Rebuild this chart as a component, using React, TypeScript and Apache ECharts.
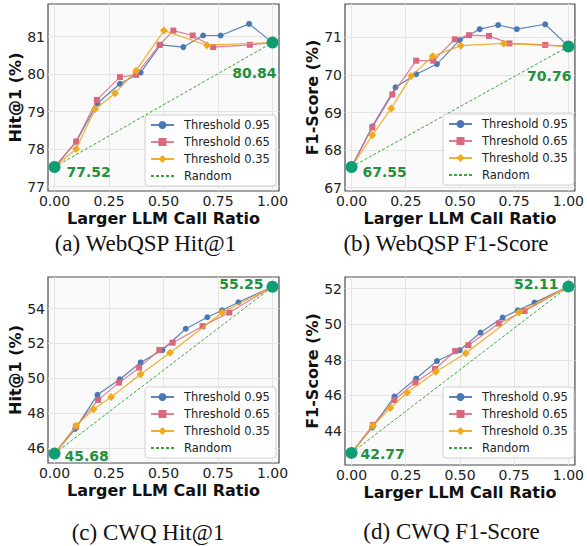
import React, { useEffect, useRef } from "react";
import * as echarts from "echarts";

// ---------- data ----------
const xTicks = [0, 0.25, 0.5, 0.75, 1];

// (a) WebQSP Hit@1
const aBlue = [[0, 77.52], [0.1, 78.2], [0.197, 79.22], [0.3, 79.74], [0.395, 80.04], [0.486, 80.78], [0.591, 80.72], [0.682, 81.03], [0.762, 81.03], [0.893, 81.34], [1, 80.84]];
const aPink = [[0, 77.52], [0.099, 78.2], [0.194, 79.31], [0.3, 79.92], [0.374, 79.98], [0.482, 80.78], [0.545, 81.16], [0.634, 81.03], [0.728, 80.72], [0.896, 80.78], [1, 80.84]];
const aOrange = [[0, 77.52], [0.099, 78.0], [0.186, 79.06], [0.278, 79.49], [0.374, 80.09], [0.502, 81.16], [0.7, 80.77], [1, 80.84]];
const aRandom = [[0, 77.52], [1, 80.84]];
const aTicks = [77, 78, 79, 80, 81];

// (b) WebQSP F1-Score
const bBlue = [[0, 67.55], [0.096, 68.63], [0.203, 69.67], [0.298, 70.02], [0.394, 70.29], [0.499, 70.93], [0.591, 71.22], [0.676, 71.33], [0.762, 71.22], [0.893, 71.35], [1, 70.76]];
const bPink = [[0, 67.55], [0.096, 68.6], [0.188, 69.48], [0.298, 70.38], [0.377, 70.38], [0.476, 70.95], [0.542, 71.06], [0.634, 71.04], [0.728, 70.84], [0.893, 70.8], [1, 70.76]];
const bOrange = [[0, 67.55], [0.096, 68.4], [0.183, 69.11], [0.275, 69.97], [0.374, 70.5], [0.504, 70.78], [0.702, 70.84], [1, 70.76]];
const bRandom = [[0, 67.55], [1, 70.76]];
const bTicks = [67, 68, 69, 70, 71];

// (c) CWQ Hit@1
const cBlue = [[0, 45.68], [0.095, 47.1], [0.197, 49.05], [0.3, 49.94], [0.395, 50.91], [0.495, 51.62], [0.602, 52.84], [0.701, 53.5], [0.769, 53.9], [0.844, 54.36], [1, 55.25]];
const cPink = [[0, 45.68], [0.099, 47.24], [0.2, 48.76], [0.296, 49.75], [0.388, 50.61], [0.481, 51.62], [0.542, 52.04], [0.679, 52.99], [0.802, 53.77], [1, 55.25]];
const cOrange = [[0, 45.68], [0.099, 47.28], [0.179, 48.23], [0.26, 48.93], [0.395, 50.23], [0.53, 51.47], [0.769, 53.77], [1, 55.25]];
const cRandom = [[0, 45.68], [1, 55.25]];
const cTicks = [46, 48, 50, 52, 54];

// (d) CWQ F1-Score
const dBlue = [[0, 42.77], [0.096, 44.2], [0.198, 45.93], [0.298, 46.95], [0.394, 47.93], [0.499, 48.54], [0.595, 49.53], [0.697, 50.37], [0.767, 50.78], [0.844, 51.21], [1, 52.11]];
const dPink = [[0, 42.77], [0.099, 44.34], [0.198, 45.74], [0.295, 46.73], [0.385, 47.48], [0.478, 48.49], [0.539, 48.82], [0.679, 50.04], [0.798, 50.74], [1, 52.11]];
const dOrange = [[0, 42.77], [0.099, 44.3], [0.179, 45.29], [0.256, 46.15], [0.389, 47.33], [0.527, 48.37], [0.771, 50.65], [1, 52.11]];
const dRandom = [[0, 42.77], [1, 52.11]];
const dTicks = [44, 46, 48, 50, 52];

const seriesNames = ["Threshold 0.95", "Threshold 0.65", "Threshold 0.35", "Random"];
const captions = ["(a) WebQSP Hit@1", "(b) WebQSP F1-Score", "(c) CWQ Hit@1", "(d) CWQ F1-Score"];
const yTitles = ["Hit@1 (%)", "F1-Score (%)", "Hit@1 (%)", "F1-Score (%)"];
const xTitle = "Larger LLM Call Ratio";

// ---------- styling / layout ----------
const FONT = "DejaVu Sans";
const BLUE = "#4a78b3";
const PINK = "#d9687f";
const ORANGE = "#efa91c";
const GREEN_LINE = "#3aa53a";
const GREEN_PT = "#0f9e74";
const GREEN_TXT = "#22913a";

const panels = [
  { blue: aBlue, pink: aPink, orange: aOrange, random: aRandom, ticks: aTicks, ymin: 76.88, ymax: 81.87,
    grid: { left: 48, top: 4, width: 231, height: 187 }, legend: { left: 145, top: 115 },
    startOff: [12, 5], endOff: [4, 30], caption: [145.5, 243] },
  { blue: bBlue, pink: bPink, orange: bOrange, random: bRandom, ticks: bTicks, ymin: 66.91, ymax: 71.89,
    grid: { left: 345, top: 4, width: 232, height: 187 }, legend: { left: 443, top: 114 },
    startOff: [11, 5], endOff: [3, 30], caption: [446, 243] },
  { blue: cBlue, pink: cPink, orange: cOrange, random: cRandom, ticks: cTicks, ymin: 45.14, ymax: 55.81,
    grid: { left: 48, top: 277, width: 231, height: 186 }, legend: { left: 145, top: 387 },
    startOff: [10, 2], endOff: [-9, -3], caption: [148, 532] },
  { blue: dBlue, pink: dPink, orange: dOrange, random: dRandom, ticks: dTicks, ymin: 42.09, ymax: 52.65,
    grid: { left: 345, top: 277, width: 232, height: 188 }, legend: { left: 443, top: 387 },
    startOff: [9, 1], endOff: [-10, -3], caption: [451.5, 531] },
];

function buildOption() {
  const grid: any[] = [];
  const xAxis: any[] = [];
  const yAxis: any[] = [];
  const series: any[] = [];
  const legend: any[] = [];
  const graphic: any[] = [];

  panels.forEach((p, i) => {
    grid.push({
      ...p.grid,
      show: true,
      backgroundColor: "#fafafa",
      borderColor: "#4a4a4a",
      borderWidth: 1.2,
      containLabel: false,
    });
    xAxis.push({
      type: "value",
      gridIndex: i,
      min: -0.03,
      max: 1.03,
      name: xTitle,
      nameLocation: "middle",
      nameGap: 19,
      nameTextStyle: { fontFamily: FONT, fontWeight: "bold", fontSize: 16, color: "#111" },
      axisLine: { show: false },
      axisTick: { show: false, customValues: xTicks },
      axisLabel: {
        customValues: xTicks,
        formatter: (v: number) => v.toFixed(2),
        fontFamily: FONT,
        fontSize: 14,
        color: "#222",
        margin: 3,
      },
      splitLine: { show: true, lineStyle: { color: "#e4e4e4", width: 1 } },
    });
    yAxis.push({
      type: "value",
      gridIndex: i,
      min: p.ymin,
      max: p.ymax,
      name: yTitles[i],
      nameLocation: "middle",
      nameGap: 24,
      nameTextStyle: { fontFamily: FONT, fontWeight: "bold", fontSize: 16, color: "#111" },
      axisLine: { show: false },
      axisTick: { show: false, customValues: p.ticks },
      axisLabel: {
        customValues: p.ticks,
        formatter: (v: number) => String(v),
        fontFamily: FONT,
        fontSize: 14,
        color: "#222",
        margin: 3,
      },
      splitLine: { show: true, lineStyle: { color: "#e4e4e4", width: 1 } },
    });

    const common = { xAxisIndex: i, yAxisIndex: i, type: "line", showAllSymbol: true };
    series.push({
      ...common,
      name: seriesNames[0],
      data: p.blue,
      symbol: "circle",
      symbolSize: 6,
      itemStyle: { color: BLUE },
      lineStyle: { color: BLUE, width: 1.2, opacity: 0.9 },
      z: 3,
    });
    series.push({
      ...common,
      name: seriesNames[1],
      data: p.pink,
      symbol: "rect",
      symbolSize: 6,
      itemStyle: { color: PINK },
      lineStyle: { color: PINK, width: 1.2, opacity: 0.85 },
      z: 4,
    });
    series.push({
      ...common,
      name: seriesNames[2],
      data: p.orange,
      symbol: "diamond",
      symbolSize: 8,
      itemStyle: { color: ORANGE },
      lineStyle: { color: ORANGE, width: 1.2, opacity: 0.9 },
      z: 5,
    });
    series.push({
      ...common,
      name: seriesNames[3],
      data: p.random,
      symbol: "none",
      itemStyle: { color: GREEN_LINE },
      lineStyle: { color: GREEN_LINE, width: 1, type: [3, 2] },
      z: 2,
    });
    const start = p.random[0];
    const end = p.random[p.random.length - 1];
    const lbl = {
      show: true, position: "inside", verticalAlign: "middle",
      fontFamily: FONT, fontWeight: "bold", fontSize: 14, color: GREEN_TXT,
      textBorderWidth: 0, textBorderColor: "transparent",
    };
    series.push({
      type: "scatter",
      xAxisIndex: i,
      yAxisIndex: i,
      symbolSize: 12,
      itemStyle: { color: GREEN_PT, opacity: 1 },
      z: 10,
      data: [
        { value: start, label: { ...lbl, align: "left", offset: p.startOff, formatter: start[1].toFixed(2) } },
        { value: end, label: { ...lbl, align: "right", offset: p.endOff, formatter: end[1].toFixed(2) } },
      ],
    });

    legend.push({
      orient: "vertical",
      left: p.legend.left,
      top: p.legend.top,
      data: [
        seriesNames[0],
        seriesNames[1],
        seriesNames[2],
        { name: seriesNames[3], itemStyle: { opacity: 0 } },
      ],
      itemWidth: 23,
      itemHeight: 10,
      itemGap: 3,
      padding: [3, 6, 3, 5],
      backgroundColor: "rgba(255,255,255,0.85)",
      borderColor: "#d0d0d0",
      borderWidth: 1,
      borderRadius: 3,
      selectedMode: false,
      textStyle: { fontFamily: FONT, fontSize: 11.5, color: "#222", lineHeight: 14, padding: [0, 0, 0, 5] },
    });

    graphic.push({
      type: "text",
      x: p.caption[0],
      y: p.caption[1],
      style: {
        text: captions[i],
        font: "23px 'Liberation Serif', 'Times New Roman', serif",
        fill: "#111",
        textAlign: "center",
        textVerticalAlign: "middle",
      },
    });
  });

  return {
    animation: false,
    backgroundColor: "#ffffff",
    grid,
    xAxis,
    yAxis,
    series,
    legend,
    graphic,
  };
}

export default function App() {
  const ref = useRef<HTMLDivElement>(null);
  useEffect(() => {
    if (!ref.current) return;
    const chart = echarts.init(ref.current, undefined, { renderer: "svg" });
    chart.setOption(buildOption() as any);
    return () => chart.dispose();
  }, []);
  return (
    <div
      ref={ref}
      style={{ position: "absolute", left: 0, top: 0, width: 587, height: 546 }}
    />
  );
}
